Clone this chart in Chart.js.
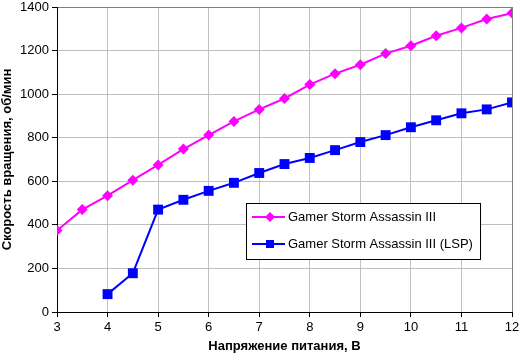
<!DOCTYPE html>
<html><head><meta charset="utf-8">
<script src="https://cdn.jsdelivr.net/npm/chart.js@4/dist/chart.umd.min.js"></script>
<style>html,body{margin:0;padding:0;background:#fff}#wrap{width:519px;height:357px}</style>
</head><body><div id="wrap"><canvas id="c" width="519" height="357"></canvas></div>
<script>
const voltsA = [3,3.5,4,4.5,5,5.5,6,6.5,7,7.5,8,8.5,9,9.5,10,10.5,11,11.5,12];
const rpmA = [374,470,534,605,675,748,812,875,930,980,1044,1094,1135,1186,1222,1268,1304,1345,1372];
const voltsB = [4,4.5,5,5.5,6,6.5,7,7.5,8,8.5,9,9.5,10,10.5,11,11.5,12];
const rpmB = [82,178,470,515,556,593,638,679,707,743,780,812,848,880,912,930,962];
const labelA = 'Gamer Storm Assassin III';
const labelB = 'Gamer Storm Assassin III (LSP)';
const xTitle = 'Напряжение питания, В';
const yTitle = 'Скорость вращения, об/мин';

const FONT = '"Liberation Sans", Arial, sans-serif';

const legendPlugin = {
  id: 'boxLegend',
  afterDraw(chart) {
    const ctx = chart.ctx;
    const x0 = 246.5, y0 = 203.5, w = 234, h = 56;
    ctx.save();
    ctx.fillStyle = '#fff';
    ctx.fillRect(x0, y0, w, h);
    ctx.strokeStyle = '#000';
    ctx.lineWidth = 1;
    ctx.strokeRect(x0, y0, w, h);
    const rows = [217, 244];
    chart.data.datasets.forEach((ds, i) => {
      const y = rows[i];
      ctx.strokeStyle = ds.borderColor;
      ctx.lineWidth = 2;
      ctx.beginPath(); ctx.moveTo(252, y); ctx.lineTo(285, y); ctx.stroke();
      ctx.fillStyle = ds.backgroundColor;
      if (ds.pointStyle === 'rectRot') {
        ctx.beginPath();
        ctx.moveTo(270, y - 5); ctx.lineTo(275, y); ctx.lineTo(270, y + 5); ctx.lineTo(265, y); ctx.closePath(); ctx.fill();
      } else {
        ctx.fillRect(266, y - 4, 8, 8);
      }
      ctx.fillStyle = '#000';
      ctx.font = '13px ' + FONT;
      ctx.textBaseline = 'middle';
      ctx.textAlign = 'left';
      ctx.fillText(ds.label, 288, y);
    });
    ctx.restore();
  }
};

new Chart(document.getElementById('c'), {
  type: 'line',
  data: {
    datasets: [
      { label: labelA, data: voltsA.map((v, i) => ({x: v, y: rpmA[i]})), borderColor: '#ff00ff', backgroundColor: '#ff00ff',
        borderWidth: 2, pointStyle: 'rectRot', pointRadius: 5.5, pointHoverRadius: 5.5, pointBorderWidth: 0, tension: 0 },
      { label: labelB, data: voltsB.map((v, i) => ({x: v, y: rpmB[i]})), borderColor: '#0000ff', backgroundColor: '#0000ff',
        borderWidth: 2, pointStyle: 'rect', pointRadius: 7, pointHoverRadius: 7, pointBorderWidth: 0, tension: 0 }
    ]
  },
  options: {
    responsive: false,
    animation: false,
    devicePixelRatio: 1,
    layout: { padding: { left: 0, right: 6, top: 5, bottom: 0 } },
    plugins: { legend: { display: false }, tooltip: { enabled: false } },
    scales: {
      x: {
        type: 'linear', min: 3, max: 12,
        ticks: { stepSize: 1, color: '#000', font: { family: FONT, size: 13 }, padding: 3, maxRotation: 0,
                 callback: (v) => String(v) },
        grid: { color: (c) => c.tick && c.tick.value === 12 ? '#808080' : '#c0c0c0', tickColor: '#000', tickLength: 5, lineWidth: 1 },
        border: { color: '#000', width: 1 },
        title: { display: true, text: xTitle, color: '#000', font: { family: FONT, size: 13, weight: 'bold' }, padding: { top: 1, bottom: 3 } },
        afterFit: (s) => { s.height = 45; s.paddingLeft = 0; s.paddingRight = 0; }
      },
      y: {
        min: 0, max: 1400,
        ticks: { stepSize: 200, color: '#000', font: { family: FONT, size: 13 }, padding: 3,
                 callback: (v) => String(v) },
        grid: { color: (c) => c.tick && c.tick.value === 1400 ? '#808080' : '#c0c0c0', tickColor: '#000', tickLength: 5, lineWidth: 1 },
        border: { color: '#000', width: 1 },
        title: { display: true, text: yTitle, color: '#000', font: { family: FONT, size: 13, weight: 'bold' }, padding: { top: 0, bottom: 2 } },
        afterFit: (s) => { s.width = 57; s.paddingTop = 0; s.paddingBottom = 0; }
      }
    }
  },
  plugins: [legendPlugin]
});
</script>
</body></html>
